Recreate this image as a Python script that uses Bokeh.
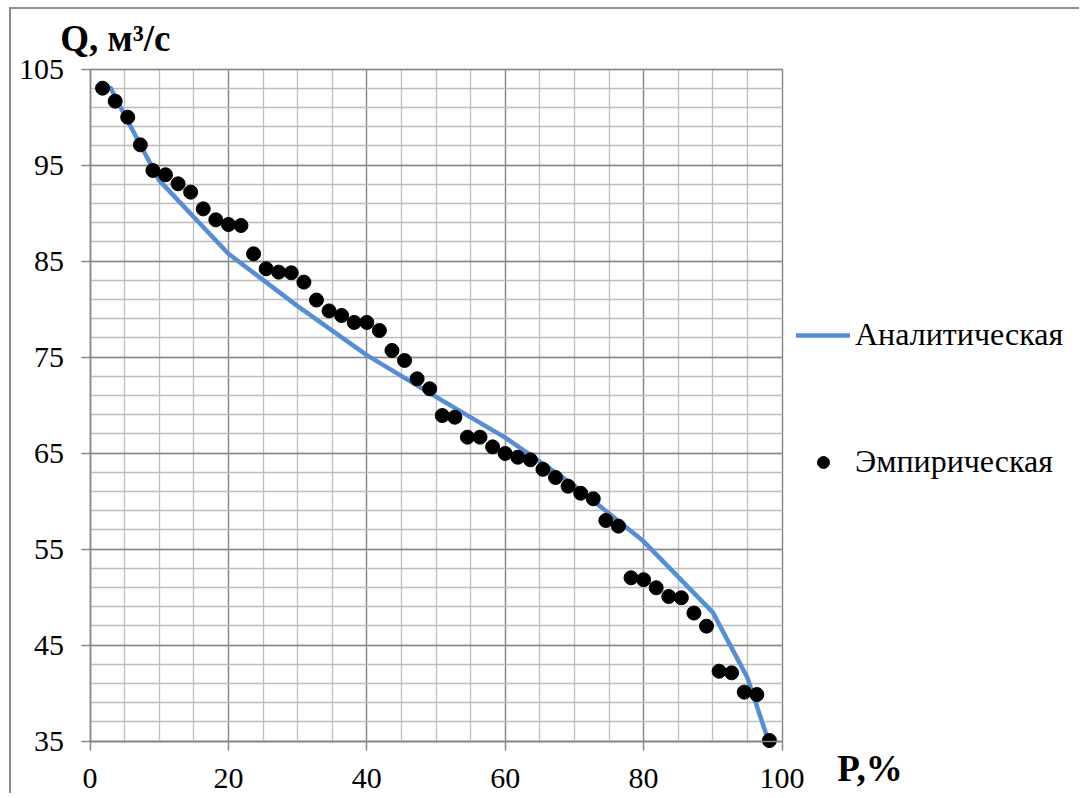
from bokeh.plotting import figure
from bokeh.models import (Range1d, FixedTicker, Legend, LegendItem, Label, ColumnDataSource)
from bokeh.embed import file_html
from bokeh.resources import INLINE

# ---- data ----
emp_q = [103.0, 101.65, 99.98, 97.1, 94.43, 93.98, 93.04, 92.17, 90.43, 89.29,
         88.8, 88.7, 85.75, 84.19, 83.84, 83.77, 82.8, 80.93, 79.8, 79.32,
         78.6, 78.6, 77.76, 75.68, 74.64, 72.73, 71.69, 68.9, 68.73, 66.65,
         66.65, 65.64, 64.95, 64.56, 64.29, 63.3, 62.45, 61.54, 60.81, 60.23,
         57.97, 57.38, 52.0, 51.8, 50.96, 50.05, 49.92, 48.33, 46.96, 42.27,
         42.1, 40.09, 39.84, 35.05]
emp_rank = list(range(1, len(emp_q) + 1))
emp_p = [m / (len(emp_q) + 1) * 100 for m in emp_rank]

ana_p = [3, 5, 10, 20, 30, 40, 50, 60, 70, 80, 90, 95, 98]
ana_q = [103.0, 100.2, 93.4, 85.75, 80.3, 75.2, 70.85, 66.6, 61.6, 55.8, 48.4, 41.6, 35.1]

x_ticks = [0, 20, 40, 60, 80, 100]
x_minor = [v for v in range(0, 101, 5)]
y_ticks = [35, 45, 55, 65, 75, 85, 95, 105]
y_minor = [v for v in range(35, 106, 2)]
x_bounds = (0, 100)
y_bounds = (35, 105)

FONT = "Liberation Serif"
MAJ = "#868686"
MIN = "#bdbdbd"

W, H = 1070, 786
PX_X = 6.92   # pixels per % (layout only)
PX_Y = 9.6    # pixels per m3/s (layout only)
x0 = -(89.5 - 11) / PX_X
y1 = 105 + (68.5 - 9) / PX_Y

p = figure(width=W, height=H, min_border=0,
           x_range=Range1d(x0, x0 + W / PX_X), y_range=Range1d(y1 - H / PX_Y, y1),
           output_backend="svg", toolbar_location=None)
p.styles = {"border-left": "2px solid #8c8c8c", "border-top": "2px solid #8c8c8c",
            "margin-left": "9px", "margin-top": "7px"}
p.background_fill_color = "white"
p.border_fill_color = "white"
p.outline_line_color = None

p.xaxis.ticker = FixedTicker(ticks=x_ticks, minor_ticks=x_minor)
p.yaxis.ticker = FixedTicker(ticks=y_ticks, minor_ticks=y_minor)
p.xaxis.fixed_location = y_bounds[0]
p.yaxis.fixed_location = x_bounds[0]
p.xaxis.bounds = x_bounds
p.yaxis.bounds = y_bounds
for ax in (p.xaxis, p.yaxis):
    ax.axis_line_color = MAJ
    ax.axis_line_width = 1.5
    ax.major_tick_line_color = MAJ
    ax.major_tick_line_width = 1.5
    ax.major_tick_out = 9
    ax.major_tick_in = 0
    ax.minor_tick_line_color = None
    ax.major_label_text_font = FONT
    ax.major_label_text_font_size = "30px"
    ax.major_label_text_color = "black"
p.xaxis.major_label_standoff = 19
p.yaxis.major_label_standoff = 17

for g in (p.xgrid, p.ygrid):
    g.grid_line_color = MAJ
    g.grid_line_width = 1.3
    g.minor_grid_line_color = MIN
    g.minor_grid_line_width = 1.3
p.xgrid.ticker = FixedTicker(ticks=x_ticks, minor_ticks=x_minor)
p.ygrid.ticker = FixedTicker(ticks=y_ticks, minor_ticks=y_minor)
p.xgrid.bounds = x_bounds
p.xgrid.cross_bounds = y_bounds
p.ygrid.bounds = y_bounds
p.ygrid.cross_bounds = x_bounds

ana_src = ColumnDataSource(dict(p=ana_p, q=ana_q))
emp_src = ColumnDataSource(dict(p=emp_p, q=emp_q))
r_line = p.line("p", "q", source=ana_src, line_color="#558ED5", line_width=4.5,
                line_cap="round", line_join="round")
r_dot = p.scatter("p", "q", source=emp_src, size=14, fill_color="black", line_color="black")

legend = Legend(items=[LegendItem(label="Аналитическая", renderers=[r_line]),
                       LegendItem(label="Эмпирическая", renderers=[r_dot])],
                location=(785, 315), orientation="vertical")
legend.label_text_font = FONT
legend.label_text_font_size = "32px"
legend.label_text_color = "black"
legend.glyph_width = 54
legend.glyph_height = 30
legend.label_standoff = 5
legend.spacing = 90
legend.padding = 0
legend.margin = 0
legend.border_line_color = None
legend.background_fill_alpha = 0
p.add_layout(legend, "center")

p.add_layout(Label(x=-4.3, y=108.15, text="Q, м³/с", text_font=FONT, text_font_style="bold",
                   text_font_size="37px", text_baseline="alphabetic", text_color="black"))
p.add_layout(Label(x=108.0, y=32.15, text="P,%", text_font=FONT, text_font_style="bold",
                   text_font_size="37px", text_baseline="alphabetic", text_color="black"))

open("out.html", "w").write(file_html(p, INLINE))
